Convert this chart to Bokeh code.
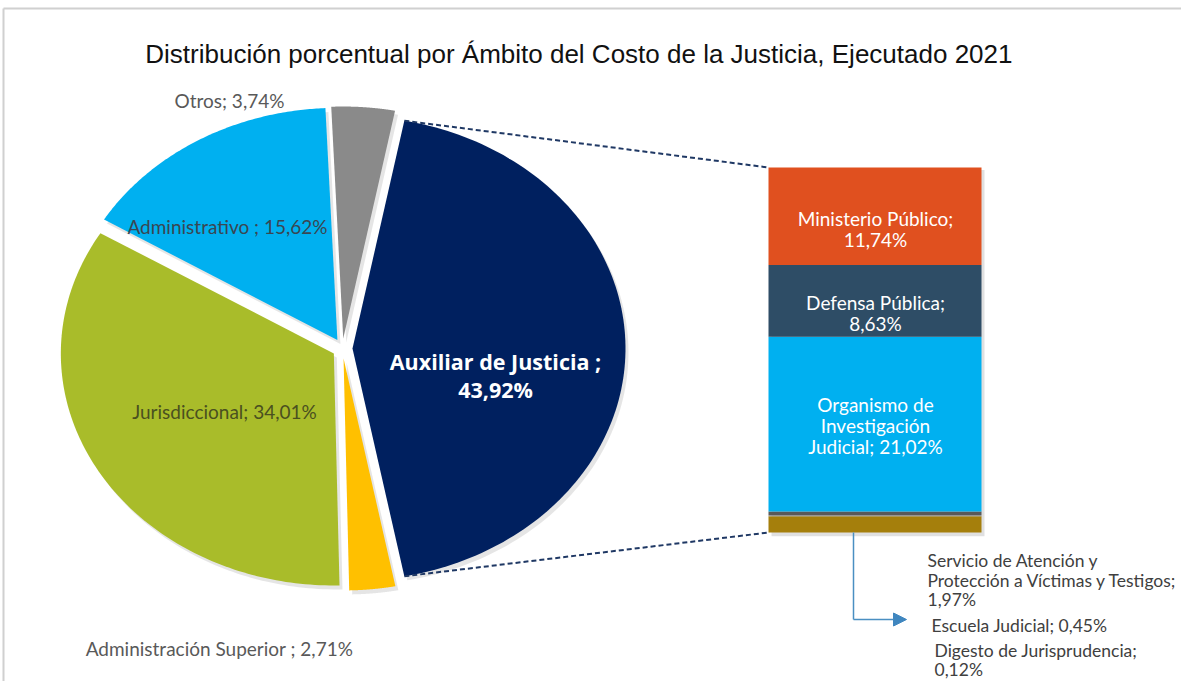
import numpy as np
from bokeh.plotting import figure
from bokeh.models import Range1d, Arrow, NormalHead
from bokeh.core.properties import value
from bokeh.embed import file_html
from bokeh.resources import INLINE

# ---------------- data ----------------
title_text = "Distribución porcentual por Ámbito del Costo de la Justicia,  Ejecutado 2021"

pie_categories = ["Auxiliar de Justicia", "Administración Superior", "Jurisdiccional",
                  "Administrativo", "Otros"]
pie_values = [43.92, 2.71, 34.01, 15.62, 3.74]
pie_label_names = ["Auxiliar de Justicia ;", "Administración Superior ;", "Jurisdiccional;",
                   "Administrativo ;", "Otros;"]
pie_colors = ["#00205F", "#FFC000", "#A9BC2A", "#00B0F0", "#8A8A8A"]

bar_categories = ["Ministerio Público", "Defensa Pública", "Organismo de Investigación Judicial",
                  "Escuela Judicial", "Digesto de Jurisprudencia",
                  "Servicio de Atención y Protección a Víctimas y Testigos"]
bar_values = [11.74, 8.63, 21.02, 0.45, 0.12, 1.97]
bar_colors = ["#E0501F", "#2E4D66", "#00B0F0", "#595959", "#9A9A9A", "#A57F0C"]


def fmt(v):
    return f"{v:.2f}%".replace(".", ",")


# ---------------- figure ----------------
W, H = 1181, 681
p = figure(width=W, height=H, x_range=Range1d(0, W), y_range=Range1d(0, H),
           x_axis_type=None, y_axis_type=None, output_backend="svg",
           toolbar_location=None, min_border=0)
p.grid.visible = False
p.outline_line_color = None
p.background_fill_color = "white"


def Y(img_y):
    return H - img_y


# frame lines (top and left)
p.segment(x0=[3, 3], y0=[Y(8), Y(8)], x1=[W, 3], y1=[Y(8), 0],
          line_color="#D0D0D0", line_width=2)

# title
p.text(x=[582], y=[Y(53)], text=[title_text], text_font=value("Liberation Sans"),
       text_font_size="26px", text_color="#111111", text_align="center",
       text_baseline="alphabetic")

# ---------------- pie (bar-of-pie, exploded, elliptical) ----------------
cx, cy = 342, Y(348)
rx, ry = 273, 232
explode = 10
total = sum(pie_values)
start = 90 - pie_values[0] / total * 360 / 2
angles = [start]
for v in pie_values:
    angles.append(angles[-1] + v / total * 360)

xs, ys, sxs, sys_ = [], [], [], []
apexes = []
for i in range(len(pie_values)):
    a0, a1 = np.radians(angles[i]), np.radians(angles[i + 1])
    mid = (a0 + a1) / 2
    ax = cx + explode * np.sin(mid)
    ay = cy + explode * np.cos(mid)
    apexes.append((ax, ay))
    t = np.linspace(a0, a1, 120)
    px = np.concatenate([[ax], ax + rx * np.sin(t)])
    py = np.concatenate([[ay], ay + ry * np.cos(t)])
    xs.append(px)
    ys.append(py)
    sxs.append(px + 3)
    sys_.append(py - 4)

p.patches(xs=sxs, ys=sys_, fill_color="#000000", fill_alpha=0.10, line_color=None)
p.patches(xs=xs, ys=ys, fill_color=pie_colors, line_color=None)

# ---------------- bar ----------------
bar_left, bar_right = 768, 981
bar_bottom_px, bar_top_px = Y(532), Y(167)
bar_total = sum(bar_values)
scale = (bar_top_px - bar_bottom_px) / bar_total
p.extra_y_ranges = {"pct": Range1d(start=(0 - bar_bottom_px) / scale,
                                   end=(H - bar_bottom_px) / scale)}
vals_bottom_up = bar_values[::-1]
cols_bottom_up = bar_colors[::-1]
tops = np.cumsum(vals_bottom_up)
bottoms = tops - np.array(vals_bottom_up)

# shadow
p.quad(left=[bar_left + 3], right=[bar_right + 3], bottom=[-0.45], top=[bar_total - 0.3],
       y_range_name="pct", fill_color="#000000", fill_alpha=0.12, line_color=None)
p.quad(left=bar_left, right=bar_right, bottom=bottoms, top=tops, y_range_name="pct",
       fill_color=cols_bottom_up, line_color=None)

# dashed connectors from the Auxiliar slice to the bar
ax0, ay0 = apexes[0]
a_top, a_bot = np.radians(angles[0]), np.radians(angles[1])
p.segment(x0=[ax0 + rx * np.sin(a_top), ax0 + rx * np.sin(a_bot)],
          y0=[ay0 + ry * np.cos(a_top), ay0 + ry * np.cos(a_bot)],
          x1=[bar_left, bar_left], y1=[bar_top_px, bar_bottom_px],
          line_color="#1F3864", line_width=2, line_dash="5 3")

# arrow to the small-value labels
arrow_x = 853
arrow_y = Y(619)
p.segment(x0=[arrow_x], y0=[bar_bottom_px], x1=[arrow_x], y1=[arrow_y],
          line_color="#4A8FC2", line_width=1.5)
p.add_layout(Arrow(end=NormalHead(size=13, fill_color="#3F86BF", line_color="#3F86BF"),
                   x_start=arrow_x, y_start=arrow_y, x_end=906, y_end=arrow_y,
                   line_color="#4A8FC2", line_width=1.5))

# ---------------- labels ----------------
FONT = value("Lato")
FS = "19px"

# pie labels
p.text(x=[229], y=[Y(100)], text=[f"{pie_label_names[4]} {fmt(pie_values[4])}"],
       text_font=FONT, text_font_size=FS, text_color="#595959",
       text_align="center", text_baseline="alphabetic")
p.text(x=[227], y=[Y(226)], text=[f"{pie_label_names[3]} {fmt(pie_values[3])}"],
       text_font=FONT, text_font_size=FS, text_color="#3A4652",
       text_align="center", text_baseline="alphabetic")
p.text(x=[224], y=[Y(411)], text=[f"{pie_label_names[2]} {fmt(pie_values[2])}"],
       text_font=FONT, text_font_size=FS, text_color="#4A5020",
       text_align="center", text_baseline="alphabetic")
p.text(x=[219], y=[Y(648)], text=[f"{pie_label_names[1]} {fmt(pie_values[1])}"],
       text_font=FONT, text_font_size=FS, text_color="#595959",
       text_align="center", text_baseline="alphabetic")
p.text(x=[495, 495], y=[Y(361), Y(389)], text=[pie_label_names[0], fmt(pie_values[0])],
       text_font=value("Open Sans"), text_font_size="21.5px", text_font_style="bold",
       text_color="white", text_align="center", text_baseline="alphabetic")

# bar labels
bar_text_lines = [
    (["Ministerio Público;", fmt(bar_values[0])], [218, 239]),
    (["Defensa Pública;", fmt(bar_values[1])], [302, 323]),
    (["Organismo de", "Investigación", f"Judicial; {fmt(bar_values[2])}"], [404, 425, 446]),
]
for lines, ys_img in bar_text_lines:
    p.text(x=[875] * len(lines), y=[Y(v) for v in ys_img], text=lines, text_font=FONT,
           text_font_size=FS, text_color="white", text_align="center",
           text_baseline="alphabetic")

# small-value labels (kept inside the canvas)
small_lines = ["Servicio de Atención y", "Protección a Víctimas y Testigos;", fmt(bar_values[5]),
               f"Escuela Judicial; {fmt(bar_values[3])}",
               "Digesto de Jurisprudencia;", fmt(bar_values[4])]
small_x = [927, 927, 927, 931, 934, 934]
small_y = [560, 580, 599, 625, 650, 669]
p.text(x=small_x, y=[Y(v) for v in small_y], text=small_lines, text_font=FONT,
       text_font_size="17.5px", text_color="#404040", text_align="left",
       text_baseline="alphabetic")

open("out.html", "w").write(file_html(p, INLINE))
